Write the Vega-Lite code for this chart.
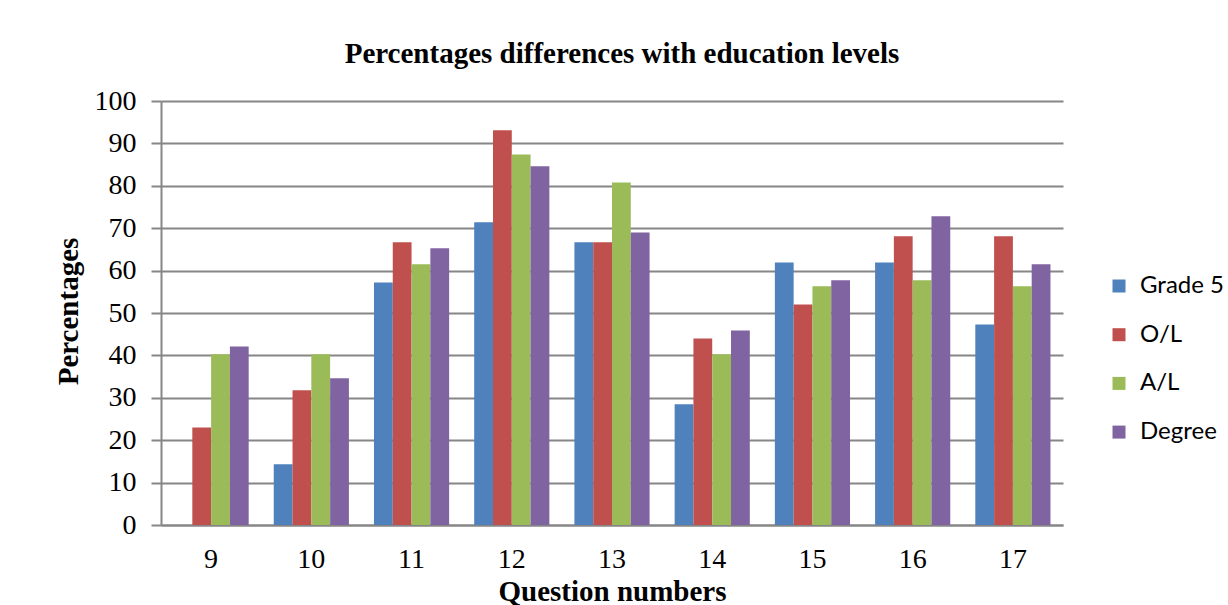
{
  "$schema": "https://vega.github.io/schema/vega-lite/v6.json",
  "autosize": "none",
  "width": 902,
  "height": 424,
  "padding": {"left": 161, "top": 101, "right": 165, "bottom": 80},
  "background": "white",
  "title": {
    "text": "Percentages differences with education levels",
    "font": "Liberation Serif",
    "fontSize": 29,
    "fontWeight": "bold",
    "color": "black",
    "anchor": "middle",
    "baseline": "alphabetic",
    "offset": 26,
    "dx": 10,
    "dy": 31
  },
  "data": {
    "values": [
      {"q": "9", "level": "Grade 5", "pct": 0},
      {"q": "9", "level": "O/L", "pct": 23.0},
      {"q": "9", "level": "A/L", "pct": 40.3},
      {"q": "9", "level": "Degree", "pct": 42.1},
      {"q": "10", "level": "Grade 5", "pct": 14.3},
      {"q": "10", "level": "O/L", "pct": 31.8},
      {"q": "10", "level": "A/L", "pct": 40.3},
      {"q": "10", "level": "Degree", "pct": 34.6},
      {"q": "11", "level": "Grade 5", "pct": 57.2},
      {"q": "11", "level": "O/L", "pct": 66.7},
      {"q": "11", "level": "A/L", "pct": 61.5},
      {"q": "11", "level": "Degree", "pct": 65.3},
      {"q": "12", "level": "Grade 5", "pct": 71.4},
      {"q": "12", "level": "O/L", "pct": 93.1},
      {"q": "12", "level": "A/L", "pct": 87.4},
      {"q": "12", "level": "Degree", "pct": 84.6},
      {"q": "13", "level": "Grade 5", "pct": 66.7},
      {"q": "13", "level": "O/L", "pct": 66.7},
      {"q": "13", "level": "A/L", "pct": 80.8},
      {"q": "13", "level": "Degree", "pct": 69.0},
      {"q": "14", "level": "Grade 5", "pct": 28.5},
      {"q": "14", "level": "O/L", "pct": 44.0},
      {"q": "14", "level": "A/L", "pct": 40.3},
      {"q": "14", "level": "Degree", "pct": 45.9},
      {"q": "15", "level": "Grade 5", "pct": 61.9},
      {"q": "15", "level": "O/L", "pct": 52.0},
      {"q": "15", "level": "A/L", "pct": 56.3},
      {"q": "15", "level": "Degree", "pct": 57.7},
      {"q": "16", "level": "Grade 5", "pct": 61.9},
      {"q": "16", "level": "O/L", "pct": 68.1},
      {"q": "16", "level": "A/L", "pct": 57.7},
      {"q": "16", "level": "Degree", "pct": 72.8},
      {"q": "17", "level": "Grade 5", "pct": 47.3},
      {"q": "17", "level": "O/L", "pct": 68.1},
      {"q": "17", "level": "A/L", "pct": 56.3},
      {"q": "17", "level": "Degree", "pct": 61.5}
    ]
  },
  "mark": {"type": "bar", "cornerRadius": 0},
  "encoding": {
    "x": {
      "field": "q",
      "type": "ordinal",
      "sort": ["9", "10", "11", "12", "13", "14", "15", "16", "17"],
      "scale": {"paddingInner": 0.25, "paddingOuter": 0.125},
      "axis": {
        "title": "Question numbers",
        "titleFont": "Liberation Serif",
        "titleFontSize": 29,
        "titleFontWeight": "bold",
        "titleColor": "black",
        "titleBaseline": "alphabetic",
        "titleY": 75,
        "labelFont": "Liberation Serif",
        "labelFontSize": 28,
        "labelColor": "black",
        "labelAngle": 0,
        "labelPadding": 20,
        "ticks": false,
        "domainColor": "#868686",
        "domainWidth": 2,
        "grid": false
      }
    },
    "xOffset": {
      "field": "level",
      "type": "nominal",
      "sort": ["Grade 5", "O/L", "A/L", "Degree"],
      "scale": {"paddingInner": 0, "paddingOuter": 0}
    },
    "y": {
      "field": "pct",
      "type": "quantitative",
      "scale": {"domain": [0, 100], "nice": false},
      "axis": {
        "title": "Percentages",
        "titleFont": "Liberation Serif",
        "titleFontSize": 29,
        "titleFontWeight": "bold",
        "titleColor": "black",
        "titleBaseline": "alphabetic",
        "titleX": -84,
        "titleY": 210,
        "values": [0, 10, 20, 30, 40, 50, 60, 70, 80, 90, 100],
        "labelFont": "Liberation Serif",
        "labelFontSize": 28,
        "labelColor": "black",
        "labelPadding": 15,
        "tickSize": 10,
        "tickColor": "#868686",
        "tickWidth": 2,
        "domainColor": "#868686",
        "domainWidth": 2,
        "gridColor": "#868686",
        "gridWidth": 2
      }
    },
    "color": {
      "field": "level",
      "type": "nominal",
      "sort": ["Grade 5", "O/L", "A/L", "Degree"],
      "scale": {
        "domain": ["Grade 5", "O/L", "A/L", "Degree"],
        "range": ["#4F81BD", "#C0504D", "#9BBB59", "#8064A2"]
      },
      "legend": {
        "title": null,
        "orient": "none",
        "legendX": 946,
        "legendY": 173,
        "padding": 0,
        "symbolType": "square",
        "symbolSize": 169,
        "symbolStrokeWidth": 0,
        "symbolOpacity": 1,
        "labelFont": "Lato",
        "labelFontSize": 24,
        "labelColor": "black",
        "labelOffset": 9,
        "rowPadding": 24.7
      }
    }
  },
  "config": {
    "view": {"stroke": null}
  }
}
